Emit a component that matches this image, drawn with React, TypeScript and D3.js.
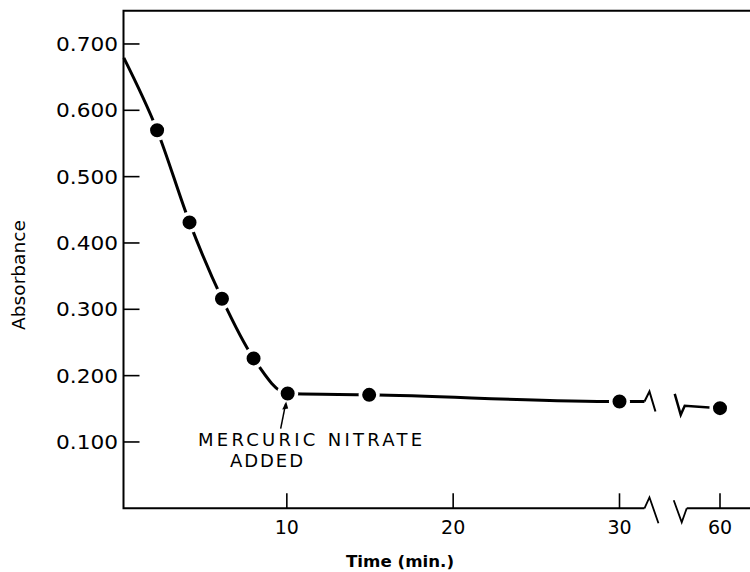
import React, { useEffect, useRef } from "react";
import * as d3 from "d3";

// readings (time in min., absorbance)
const dotTimes = [2.2, 4.15, 6.1, 8.0, 10.05, 14.95, 30, 60];
const dotAbs = [0.570, 0.431, 0.316, 0.226, 0.173, 0.171, 0.161, 0.151];
const startTime = 0.2;
const startAbs = 0.679;
const breakLeftTime = 31.5;
const breakLeftAbs = 0.161;
const breakRightTime = 58;
const breakRightAbs = 0.153;

const yTicks = [0.1, 0.2, 0.3, 0.4, 0.5, 0.6, 0.7];
const yTickLabels = ["0.100", "0.200", "0.300", "0.400", "0.500", "0.600", "0.700"];
const xTicksLeft = [10, 20, 30];
const xTicksRight = [60];

const FONT = "'DejaVu Sans', sans-serif";

function App() {
  const ref = useRef<SVGSVGElement>(null);

  useEffect(() => {
    const svg = d3.select(ref.current);
    svg.selectAll("*").remove();

    const x = d3.scaleLinear().domain([0, 30]).range([120.5, 619.5]);
    const pxPerMin = (619.5 - 120.5) / 30;
    const x2 = d3.scaleLinear().domain([58, 62]).range([720 - 2 * pxPerMin, 720 + 2 * pxPerMin]);
    const y = d3.scaleLinear().domain([0, 0.75]).range([508.3, 10.8]);

    const left = 123.5;
    const top = y(0.75);
    const bottom = y(0);
    const right = 750;
    const bx1 = x(breakLeftTime);
    const bx2 = x2(breakRightTime);

    const g = svg.append("g");

    // frame
    g.append("path")
      .attr("d", `M${right},${top}H${left}V${bottom}H${bx1}`)
      .attr("fill", "none")
      .attr("stroke", "#000")
      .attr("stroke-width", 2);
    g.append("path")
      .attr("d", `M${bx2},${bottom}H${right}`)
      .attr("stroke", "#000")
      .attr("stroke-width", 2);

    // axis break marks
    g.append("path")
      .attr("d", `M${bx1},${bottom}L${bx1 + 5},${bottom - 11}L${bx1 + 14},${bottom + 15}`)
      .attr("fill", "none")
      .attr("stroke", "#000")
      .attr("stroke-width", 1.8);
    g.append("path")
      .attr("d", `M${bx2 - 13},${bottom - 8}L${bx2 - 5},${bottom + 14}L${bx2},${bottom}`)
      .attr("fill", "none")
      .attr("stroke", "#000")
      .attr("stroke-width", 1.8);

    // y ticks
    yTicks.forEach((t, i) => {
      g.append("line")
        .attr("x1", left).attr("x2", left + 16)
        .attr("y1", y(t)).attr("y2", y(t))
        .attr("stroke", "#000").attr("stroke-width", 1.6);
      g.append("text")
        .attr("x", 118).attr("y", y(t) + 7)
        .attr("text-anchor", "end")
        .attr("font-family", FONT).attr("font-size", 19)
        .attr("textLength", 62).attr("lengthAdjust", "spacingAndGlyphs")
        .text(yTickLabels[i]);
    });

    // x ticks
    const xTick = (px: number, label: string) => {
      g.append("line")
        .attr("x1", px).attr("x2", px)
        .attr("y1", bottom).attr("y2", bottom - 15)
        .attr("stroke", "#000").attr("stroke-width", 1.6);
      g.append("text")
        .attr("x", px).attr("y", 534)
        .attr("text-anchor", "middle")
        .attr("font-family", FONT).attr("font-size", 19)
        .text(label);
    };
    xTicksLeft.forEach((t) => xTick(x(t), String(t)));
    xTicksRight.forEach((t) => xTick(x2(t), String(t)));

    // axis titles
    g.append("text")
      .attr("x", 400).attr("y", 567)
      .attr("text-anchor", "middle")
      .attr("font-family", FONT).attr("font-size", 16.5).attr("font-weight", "bold")
      .attr("textLength", 108).attr("lengthAdjust", "spacingAndGlyphs")
      .text("Time (min.)");
    g.append("text")
      .attr("transform", `translate(25,275) rotate(-90)`)
      .attr("text-anchor", "middle")
      .attr("font-family", FONT).attr("font-size", 17)
      .attr("textLength", 110).attr("lengthAdjust", "spacingAndGlyphs")
      .text("Absorbance");

    // curve
    const line = d3.line<[number, number]>()
      .x((d) => d[0])
      .y((d) => d[1])
      .curve(d3.curveMonotoneX);

    const seg1: [number, number][] = [[x(startTime), y(startAbs)]];
    dotTimes.forEach((t, i) => {
      if (t <= 30) seg1.push([x(t), y(dotAbs[i])]);
    });
    seg1.push([bx1, y(breakLeftAbs)]);

    g.append("path")
      .attr("d", line(seg1))
      .attr("fill", "none")
      .attr("stroke", "#000")
      .attr("stroke-width", 3);

    const yb1 = y(breakLeftAbs);
    g.append("path")
      .attr("d", `M${bx1},${yb1}L${bx1 + 5},${yb1 - 10}L${bx1 + 11},${yb1 + 10}`)
      .attr("fill", "none")
      .attr("stroke", "#000")
      .attr("stroke-width", 2);

    const yb2 = y(breakRightAbs);
    g.append("path")
      .attr("d", `M${bx2 - 12},${yb2 - 13}L${bx2 - 6},${yb2 + 8}L${bx2 - 2},${yb2 - 1}L${x2(60)},${y(dotAbs[7])}`)
      .attr("fill", "none")
      .attr("stroke", "#000")
      .attr("stroke-width", 2.5);

    // points with white halo
    dotTimes.forEach((t, i) => {
      const px = t <= 30 ? x(t) : x2(t);
      g.append("circle")
        .attr("cx", px).attr("cy", y(dotAbs[i]))
        .attr("r", 8.8)
        .attr("fill", "#000")
        .attr("stroke", "#fff")
        .attr("stroke-width", 3.6);
    });

    // annotation
    const ax = x(10.05);
    const ay = y(dotAbs[4]);
    g.append("line")
      .attr("x1", ax - 7).attr("y1", ay + 35)
      .attr("x2", ax - 2).attr("y2", ay + 10)
      .attr("stroke", "#000").attr("stroke-width", 1.5);
    g.append("path")
      .attr("d", `M${ax - 1.5},${ay + 8}L${ax - 5.5},${ay + 16}L${ax + 0.5},${ay + 15}Z`)
      .attr("fill", "#000");
    g.append("text")
      .attr("x", 198).attr("y", 446)
      .attr("font-family", FONT).attr("font-size", 18)
      .attr("textLength", 224).attr("lengthAdjust", "spacing")
      .text("MERCURIC NITRATE");
    g.append("text")
      .attr("x", 230).attr("y", 467)
      .attr("font-family", FONT).attr("font-size", 18)
      .attr("textLength", 73).attr("lengthAdjust", "spacing")
      .text("ADDED");
  }, []);

  return (
    <svg
      ref={ref}
      width={750}
      height={572}
      style={{ position: "absolute", left: 0, top: 0, background: "#fff" }}
    />
  );
}

export default App;
